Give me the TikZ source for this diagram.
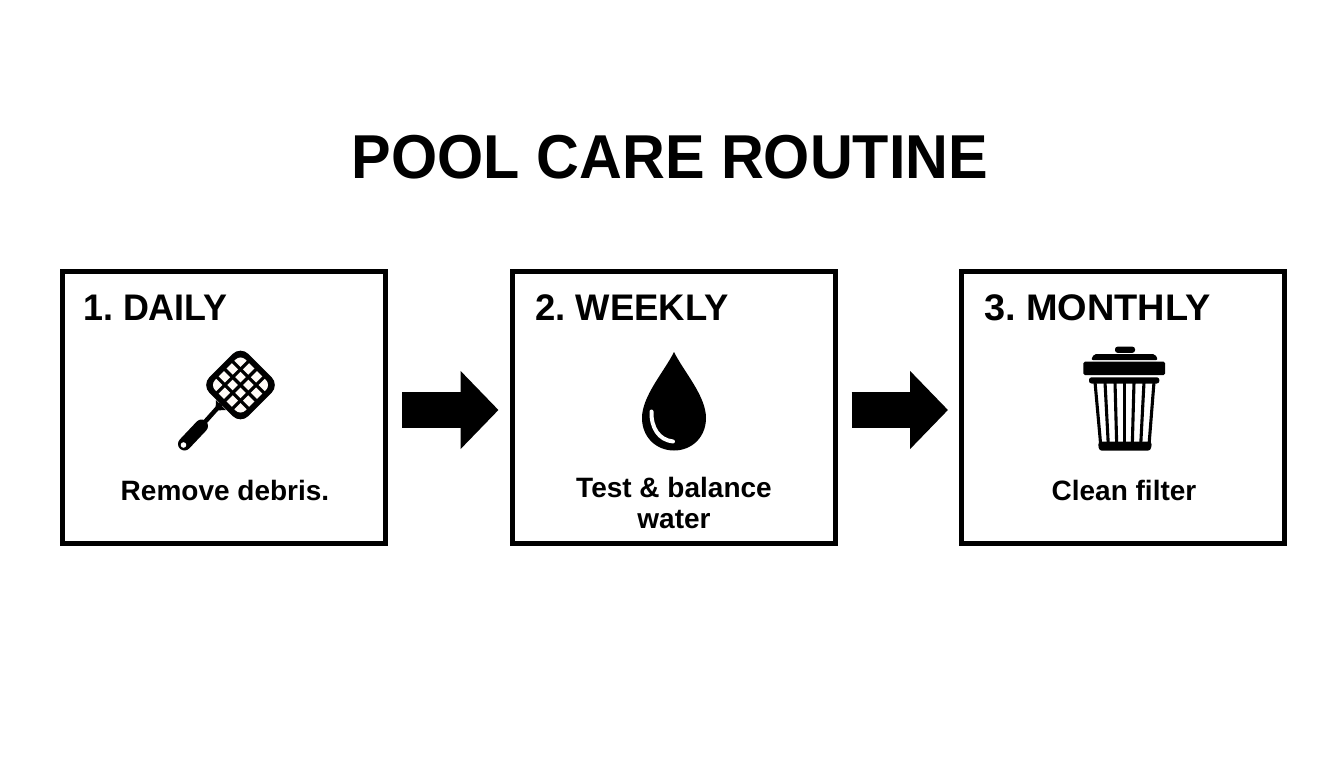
\documentclass[tikz,border=0pt]{standalone}
\usepackage{fontspec}
\setmainfont{Liberation Sans}[BoldFont={Liberation Sans Bold}]
\usetikzlibrary{arrows.meta}
\tikzset{
  stepbox/.style={draw=black,line width=5pt,fill=white,minimum width=323pt,minimum height=272pt,inner sep=0pt,outer sep=2.5pt},
  titletext/.style={font=\bfseries\fontsize{62}{62}\selectfont,inner sep=0pt,anchor=base},
  headtext/.style={font=\bfseries\fontsize{37}{37}\selectfont\frenchspacing,inner sep=0pt,anchor=base west},
  bodytext/.style={font=\bfseries\fontsize{28}{32}\selectfont,inner sep=0pt,anchor=base,align=center},
  flowarrow/.style={line width=36pt,draw=black,-{Triangle[length=38pt,width=76pt]},shorten <=14pt,shorten >=11pt},
  slat/.style={line width=3.1pt,draw=black}
}
\begin{document}
\begin{tikzpicture}[x=1pt,y=-1pt]
\useasboundingbox (0,0) rectangle (1344,768);
\fill[white] (0,0) rectangle (1344,768);
\node[titletext] (title) at (670,178) {\scalebox{.957}[1]{POOL CARE ROUTINE}};
\node[stepbox] (b1) at (224,407.5) {};
\node[stepbox] (b2) at (673.5,407.5) {};
\node[stepbox] (b3) at (1123,407.5) {};
\coordinate (mid) at (0,410);
\draw[flowarrow] (b1.east |- mid) -- (b2.west |- mid);
\draw[flowarrow] (b2.east |- mid) -- (b3.west |- mid);
\node[headtext] (h1) at (83,320) {\scalebox{.97}[1]{1. DAILY}};
\node[headtext] (h2) at (535,320) {\scalebox{.985}[1]{2. WEEKLY}};
\node[headtext] (h3) at (984,320) {\scalebox{1.025}[1]{3. MONTHLY}};
\node[bodytext] (t1) at (225,500) {Remove debris.};
\node[bodytext] (t2) at (674,528) {Test \& balance\\[-1pt]water};
\node[bodytext] (t3) at (1124,500) {Clean filter};
% swatter
\draw[black,line width=4.5pt] (221,404) -- (204,423);
\fill[black] (216,400) -- (226,410) -- (215.5,410.5) -- cycle;
\draw[black,line width=13pt,line cap=round] (201.5,426) -- (184.5,444);
\fill[white] (183.5,445) circle (2.8);
\begin{scope}[shift={(240.5,385)},rotate=45]
  \fill[black,rounded corners=11pt] (-27.5,-27.5) rectangle (27.5,27.5);
  \fill[white!97!orange,rounded corners=7pt] (-21.5,-21.5) rectangle (21.5,21.5);
  \foreach \k in {-11,0,11}{
    \draw[black,line width=3.2pt] (\k,-22) -- (\k,22);
    \draw[black,line width=3.2pt] (-22,\k) -- (22,\k);
  }
\end{scope}
% drop
\fill[black] (674,352) .. controls (664,372) and (642,396) .. (642,418)
  .. controls (642,437) and (656,450.5) .. (674,450.5)
  .. controls (692,450.5) and (706,437) .. (706,418)
  .. controls (706,396) and (684,372) .. (674,352) -- cycle;
\draw[white,line width=4pt,line cap=round] (651.5,411.5) .. controls (651,428) and (659,440) .. (673,441.5);
% bin
\fill[black,rounded corners=2.5pt] (1115,346.7) rectangle (1135,352.8);
\fill[black,rounded corners=2pt] (1091,360) -- (1094,354) -- (1155,354) -- (1158,360) -- cycle;
\fill[black,rounded corners=1.5pt] (1083.3,361.7) rectangle (1165,375);
\fill[black,rounded corners=2.5pt] (1089,377.3) rectangle (1159.3,383.5);
\foreach \a/\c in {1095/1100.7,1105/1108.3,1115/1116.7,1124.3/1124.3,1134/1132.3,1144/1140.7,1154/1149}{
  \draw[slat] (\a,382) -- (\c,445);
}
\fill[black,rounded corners=3pt] (1098,441.7) -- (1152,441.7) -- (1150.7,450.7) -- (1099,450.7) -- cycle;
\end{tikzpicture}
\end{document}
